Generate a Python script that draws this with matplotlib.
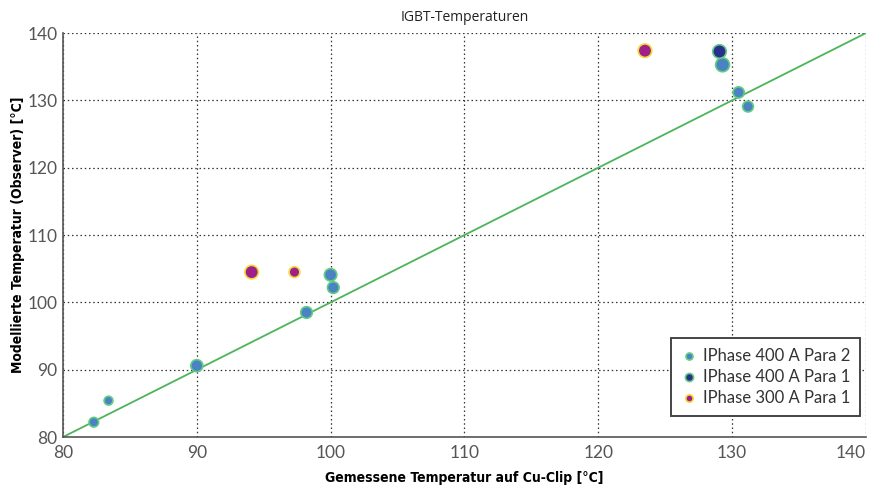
import matplotlib
matplotlib.use('Agg')
import matplotlib.pyplot as plt

# ---------------------------------------------------------------------------
# Data (measured Cu-clip temperature vs. observer model)
# ---------------------------------------------------------------------------
para2_measured = [82.3, 83.4, 90.0, 98.2, 100.0, 100.2, 129.3, 130.5, 131.2]
para2_modelled = [82.2, 85.4, 90.6, 98.5, 104.1, 102.2, 135.3, 131.2, 129.1]

para1_400_measured = [129.0]
para1_400_modelled = [137.4]

para1_300_measured = [94.1, 97.3, 123.5]
para1_300_modelled = [104.5, 104.5, 137.4]

ref_line = [80, 140]

# marker sizes (pt^2) as they appear in the picture
para2_sizes = [48, 40, 75, 70, 80, 70, 100, 65, 60]
para1_400_sizes = [95]
para1_300_sizes = [95, 60, 95]

C_PARA2 = '#4a82c3'
C_PARA1_400 = '#2a2f8c'
C_PARA1_300 = '#a0208a'
EDGE_GREEN = '#62cc82'
EDGE_YELLOW = '#f0dc3c'
LINE_C = '#4cb45a'
TICK_C = '#555555'

fig = plt.figure(figsize=(8.78, 4.88), dpi=100)
ax = fig.add_axes([0.0718, 0.1045, 0.9142, 0.8275])

ax.plot(ref_line, ref_line, color=LINE_C, lw=1.3, zorder=2)

ax.scatter(para2_measured, para2_modelled, s=para2_sizes, c=C_PARA2,
           edgecolors=EDGE_GREEN, linewidths=1.2, zorder=3,
           label='IPhase 400 A Para 2')
ax.scatter(para1_400_measured, para1_400_modelled, s=para1_400_sizes,
           c=C_PARA1_400, edgecolors=EDGE_GREEN, linewidths=1.2, zorder=3,
           label='IPhase 400 A Para 1')
ax.scatter(para1_300_measured, para1_300_modelled, s=para1_300_sizes,
           c=C_PARA1_300, edgecolors=EDGE_YELLOW, linewidths=1.2, zorder=3,
           label='IPhase 300 A Para 1')

ax.set_xlim(80, 140)
ax.set_ylim(80, 140)
ax.set_xticks(range(80, 141, 10))
ax.set_yticks(range(80, 141, 10))

ax.grid(True, color='#333333', linestyle=(0, (1.2, 2.2)), linewidth=0.9)
ax.set_axisbelow(True)
for side in ('top', 'right'):
    ax.spines[side].set_visible(False)
for side in ('left', 'bottom'):
    ax.spines[side].set_color('#555555')
    ax.spines[side].set_linewidth(1.2)

ax.tick_params(length=0, labelsize=12.5, labelcolor=TICK_C)
ax.tick_params(axis='x', pad=6)
ax.tick_params(axis='y', pad=4)
for lab in ax.get_xticklabels() + ax.get_yticklabels():
    lab.set_family('Lato')
# keep the last x tick label inside the figure
ax.get_xticklabels()[-1].set_horizontalalignment('right')
ax.get_xticklabels()[-1].set_x(140.85)

ax.set_title('IGBT-Temperaturen', fontsize=10, color='#222222', pad=9,
             family='Open Sans')
ax.set_xlabel('Gemessene Temperatur auf Cu-Clip [°C]', fontsize=10,
              fontweight='bold', family='DejaVu Sans', fontstretch='condensed',
              labelpad=7)
ax.set_ylabel('Modellierte Temperatur (Observer) [°C]', fontsize=10,
              fontweight='bold', family='DejaVu Sans', fontstretch='condensed',
              labelpad=0)
ax.yaxis.set_label_coords(-0.047, 0.5)

leg = ax.legend(loc='lower right', bbox_to_anchor=(0.9995, 0.04),
                fontsize=12, markerscale=0.6, scatterpoints=1,
                handlelength=0.9, handletextpad=0.4, borderpad=0.6,
                labelspacing=0.3, borderaxespad=0.3,
                fancybox=False, framealpha=1)
leg.get_frame().set_edgecolor('#444444')
leg.get_frame().set_linewidth(1.4)
for t in leg.get_texts():
    t.set_family('Lato')
    t.set_color('#333333')

fig.savefig('out.png', dpi=100)
